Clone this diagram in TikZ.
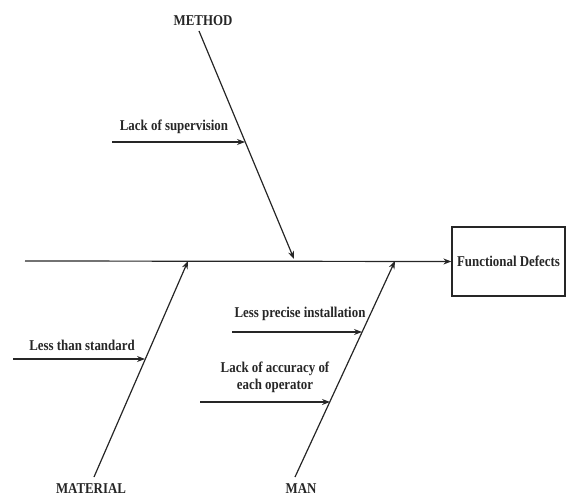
\documentclass[tikz,border=0pt]{standalone}
\usepackage{fontspec}
\setmainfont[FakeStretch=0.86]{Liberation Serif}
\usetikzlibrary{arrows.meta}
\begin{document}
\begin{tikzpicture}[x=1pt,y=-1pt,
  bone/.style={line width=1.2pt, draw=black!85},
  arr/.style={bone, -{Stealth[length=8pt,width=6pt]}},
  lbl/.style={font=\bfseries\fontsize{15}{17}\selectfont, text=black!85, inner sep=0pt, align=center},
]
\useasboundingbox (0,0) rectangle (567,497);

% effect box and spine
\node[draw=black!85, line width=1.2pt, minimum width=113pt, minimum height=69pt, lbl, inner sep=0pt]
  (effect) at (508.5,261.5) {Functional Defects};
\coordinate (spineL) at (25,261);
\draw[arr] (spineL) -- (effect.west);

% METHOD bone
\node[lbl] (method) at (203,20.5) {METHOD};
\coordinate (methodTop) at (199,31);
\coordinate (methodTip) at (294,259);
\draw[arr] (methodTop) -- (methodTip);
\node[lbl] (supervision) at (174,127) {Lack of supervision};
\coordinate (supS) at (112,142);
\coordinate (supE) at (245,142);
\draw[arr] (supS) -- (supE);

% MATERIAL bone
\node[lbl] (material) at (91,488.5) {MATERIAL};
\coordinate (materialBot) at (94,477);
\coordinate (materialTip) at (188,261);
\draw[arr] (materialBot) -- (materialTip);
\node[lbl] (standard) at (82,345) {Less than standard};
\coordinate (stdS) at (13,359);
\coordinate (stdE) at (145,359);
\draw[arr] (stdS) -- (stdE);

% MAN bone
\node[lbl] (man) at (301,488.5) {MAN};
\coordinate (manBot) at (295,477);
\coordinate (manTip) at (395,261);
\draw[arr] (manBot) -- (manTip);
\node[lbl] (installation) at (300,314) {Less precise installation};
\coordinate (instS) at (232,332);
\coordinate (instE) at (362,332);
\draw[arr] (instS) -- (instE);
\node[lbl] (accuracy) at (275,377) {Lack of accuracy of\\each operator};
\coordinate (accS) at (200,402);
\coordinate (accE) at (330,402);
\draw[arr] (accS) -- (accE);
\end{tikzpicture}
\end{document}
